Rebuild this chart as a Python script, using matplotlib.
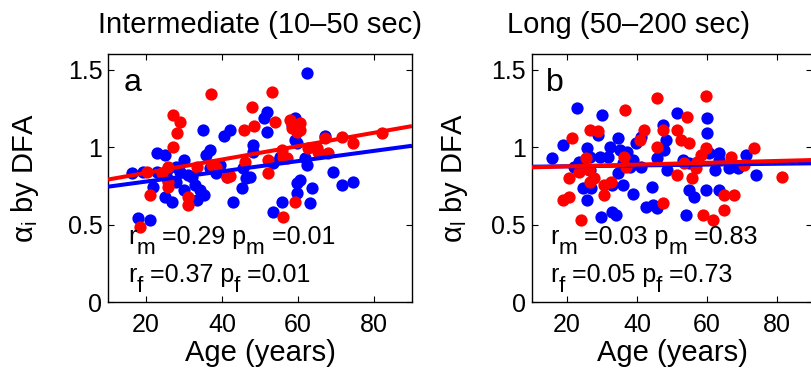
import matplotlib
matplotlib.use("Agg")
import matplotlib.pyplot as plt
import matplotlib.transforms as mtransforms
import numpy as np

plt.rcParams['font.family'] = ['Liberation Sans', 'DejaVu Sans']
plt.rcParams['mathtext.fontset'] = 'custom'
plt.rcParams['mathtext.rm'] = 'Liberation Sans'
plt.rcParams['mathtext.it'] = 'Liberation Sans'

# panel a: intermediate scale, males (blue) and females (red)
age_m_a = [62.3, 51.9, 51.0, 59.2, 35.1, 42.1, 40.4, 51.8, 48.2, 59.2, 36.8, 35.9, 22.8, 25.0,
           30.0, 67.1, 62.3, 16.2, 19.3, 22.8, 25.4, 28.0, 31.1, 36.8, 38.5, 39.4, 45.6, 47.3,
           46.4, 53.5, 21.9, 25.0, 26.8, 30.0, 33.0, 34.3, 35.2, 33.4, 43.0, 45.2, 18.0, 21.1,
           53.5, 55.7, 59.7, 60.6, 59.7, 63.7, 63.2, 69.3, 71.5, 74.6, 48.2, 55.3, 61.9, 25.4,
           28.0, 28.9, 32.0, 41.3, 59.7, 58.3]
alpha_m_a = [1.48, 1.228, 1.185, 1.185, 1.11, 1.11, 1.071, 1.10, 1.013, 1.045, 0.981, 0.948,
             0.959, 0.948, 0.916, 1.071, 0.884, 0.830, 0.84, 0.84, 0.852, 0.873, 0.820, 0.862,
             0.830, 0.884, 0.862, 0.809, 0.798, 0.895, 0.744, 0.679, 0.647, 0.723, 0.755, 0.723,
             0.690, 0.658, 0.647, 0.733, 0.540, 0.526, 0.583, 0.647, 0.766, 0.787, 0.701, 0.733,
             0.636, 0.840, 0.755, 0.776, 0.970, 0.937, 0.927, 0.798, 0.776, 0.84, 0.809, 0.809,
             1.024, 1.142]
age_f_a = [37.1, 53.1, 48.0, 27.0, 28.9, 28.2, 27.0, 45.9, 48.5, 54.0, 57.9, 60.6, 58.3, 59.7,
           20.2, 24.1, 25.8, 33.4, 37.4, 38.3, 41.3, 42.1, 25.8, 25.8, 21.1, 31.0, 31.0, 46.0,
           52.1, 52.1, 55.7, 56.1, 57.0, 62.5, 64.9, 65.3, 68.0, 67.1, 71.5, 74.6, 82.0, 59.1,
           56.1, 18.3, 60.6]
alpha_f_a = [1.342, 1.357, 1.256, 1.206, 1.163, 1.088, 1.003, 1.11, 1.136, 1.163, 1.174, 1.157,
             1.12, 1.10, 0.84, 0.830, 0.873, 0.873, 0.884, 0.873, 0.809, 0.81, 0.776, 0.744,
             0.690, 0.679, 0.625, 0.905, 0.916, 0.830, 0.981, 0.937, 0.927, 0.991, 0.991, 0.970,
             0.959, 1.06, 1.065, 1.024, 1.092, 0.647, 0.551, 0.486, 1.11]

# panel b: long scale
age_m_b = [23.0, 30.0, 15.9, 18.8, 25.7, 23.4, 26.6, 29.0, 29.5, 32.3, 34.7, 35.2, 37.1, 31.8,
           24.5, 25.9, 26.8, 29.7, 33.0, 34.0, 35.9, 34.5, 38.8, 39.8, 41.1, 42.5, 44.4, 44.6,
           45.8, 45.8, 47.3, 48.2, 47.7, 48.7, 51.5, 53.9, 54.9, 56.3, 60.1, 60.1, 59.6, 60.5,
           63.4, 62.4, 63.4, 66.3, 68.7, 71.0, 73.9, 41.1, 35.9, 37.9, 26.6, 54.9, 53.0, 22.0,
           32.8, 38.8, 63.4]
alpha_m_b = [1.254, 1.206, 0.927, 1.013, 0.991, 0.905, 0.937, 1.077, 0.937, 1.0, 1.06, 0.981,
             0.970, 0.937, 0.733, 0.658, 0.733, 0.551, 0.583, 0.562, 0.755, 0.830, 0.70, 1.024,
             1.065, 0.615, 0.744, 0.625, 0.604, 0.927, 1.142, 1.045, 0.981, 0.852, 1.217, 0.562,
             0.723, 0.679, 1.185, 1.088, 0.723, 0.959, 0.959, 0.852, 0.723, 0.862, 0.862, 0.948,
             0.820, 0.873, 0.895, 0.873, 0.852, 0.895, 0.916, 0.873, 0.755, 0.916, 0.916]
age_f_b = [45.8, 59.6, 36.7, 54.4, 21.6, 26.6, 29.0, 41.9, 41.0, 47.3, 51.5, 52.5, 45.8, 54.9,
           59.6, 58.2, 20.7, 18.8, 20.7, 25.4, 23.4, 26.3, 26.7, 27.7, 30.6, 32.5, 30.6, 36.3,
           36.8, 24.0, 47.3, 51.5, 53.4, 55.8, 56.8, 57.2, 58.7, 61.7, 64.9, 64.9, 67.7, 66.7,
           70.5, 73.5, 81.4]
alpha_f_b = [1.314, 1.329, 1.239, 1.195, 1.055, 1.110, 1.106, 1.11, 1.045, 1.11, 1.11, 1.045,
             1.0, 1.024, 0.991, 0.948, 0.798, 0.658, 0.679, 0.927, 0.84, 0.852, 0.776, 0.798,
             0.755, 0.776, 0.690, 0.937, 0.873, 0.529, 0.636, 0.820, 0.895, 0.798, 0.862, 0.905,
             0.562, 0.529, 0.593, 0.690, 0.690, 0.937, 0.884, 0.991, 0.809]

# regression lines (slope, intercept)
fit_m_a = (0.0033, 0.711)
fit_f_a = (0.00431, 0.747)
fit_m_b = (0.000275, 0.870)
fit_f_b = (0.000588, 0.863)

stats_a = ["0.29", "0.01", "0.37", "0.01"]
stats_b = ["0.03", "0.83", "0.05", "0.73"]

fig = plt.figure(figsize=(8.11, 3.74), dpi=100)
ax_a = fig.add_axes([0.1332, 0.1925, 0.3748, 0.6631])
ax_b = fig.add_axes([0.6556, 0.1925, 0.3460, 0.6631])
renderer = fig.canvas.get_renderer()


def pieces_text(ax, x, y, pieces, size=18):
    # MATLAB-style subscripts: big and dropped low, so place each piece by hand
    dx = 0.0
    for s, sub in pieces:
        fs = size * 0.9 if sub else size
        dy = -10 if sub else 0
        tr = mtransforms.offset_copy(ax.transData, fig=fig, x=dx, y=dy, units='dots')
        t = ax.text(x, y, s, fontsize=fs, va='baseline', ha='left', transform=tr, zorder=6)
        dx += t.get_window_extent(renderer=renderer).width


def draw_panel(ax, age_m, alpha_m, age_f, alpha_f, fit_m, fit_f, stats, letter, ylab,
               title, title_x, ylab_x):
    ax.scatter(age_m, alpha_m, s=78, color='#0000ff', linewidths=0, zorder=2)
    ax.scatter(age_f, alpha_f, s=78, color='#ff0000', linewidths=0, zorder=3)
    xs = np.array([10, 90])
    ax.plot(xs, fit_m[0] * xs + fit_m[1], color='#0000ff', lw=2.9, zorder=4,
            solid_capstyle='butt')
    ax.plot(xs, fit_f[0] * xs + fit_f[1], color='#ff0000', lw=2.9, zorder=5,
            solid_capstyle='butt')
    ax.set_xlim(10, 90)
    ax.set_ylim(0, 1.6)
    ax.set_xticks([20, 40, 60, 80])
    ax.set_yticks([0, 0.5, 1, 1.5])
    ax.set_yticklabels(['0', '0.5', '1', '1.5'])
    ax.tick_params(direction='in', length=4, width=0.8, top=True, right=True,
                   labelsize=18)
    ax.tick_params(axis='x', pad=8)
    ax.tick_params(axis='y', pad=4)
    for sp in ax.spines.values():
        sp.set_linewidth(1.0)
    ax.text(14.0, 1.36, letter, fontsize=23, va='baseline', ha='left')
    pieces_text(ax, 15.2, 0.374, [('r', False), ('m', True), (' =' + stats[0] + ' p', False),
                                  ('m', True), (' =' + stats[1], False)])
    pieces_text(ax, 15.2, 0.129, [('r', False), ('f', True), (' =' + stats[2] + ' p', False),
                                  ('f', True), (' =' + stats[3], False)])
    ax.set_xlabel('Age (years)', fontsize=21, labelpad=1)
    ax.set_ylabel(ylab, fontsize=21)
    ax.yaxis.set_label_coords(ylab_x, 0.5)
    ax.set_title(title, fontsize=21, pad=15, x=title_x)


draw_panel(ax_a, age_m_a, alpha_m_a, age_f_a, alpha_f_a, fit_m_a, fit_f_a, stats_a, 'a',
           r'$\mathregular{\alpha_i}$ by DFA', 'Intermediate (10\u201350 sec)', 0.5, -0.22)
draw_panel(ax_b, age_m_b, alpha_m_b, age_f_b, alpha_f_b, fit_m_b, fit_f_b, stats_b, 'b',
           r'$\mathregular{\alpha_l}$ by DFA', 'Long (50\u2013200 sec)', 0.344, -0.22)

fig.savefig('out.png', dpi=100)
